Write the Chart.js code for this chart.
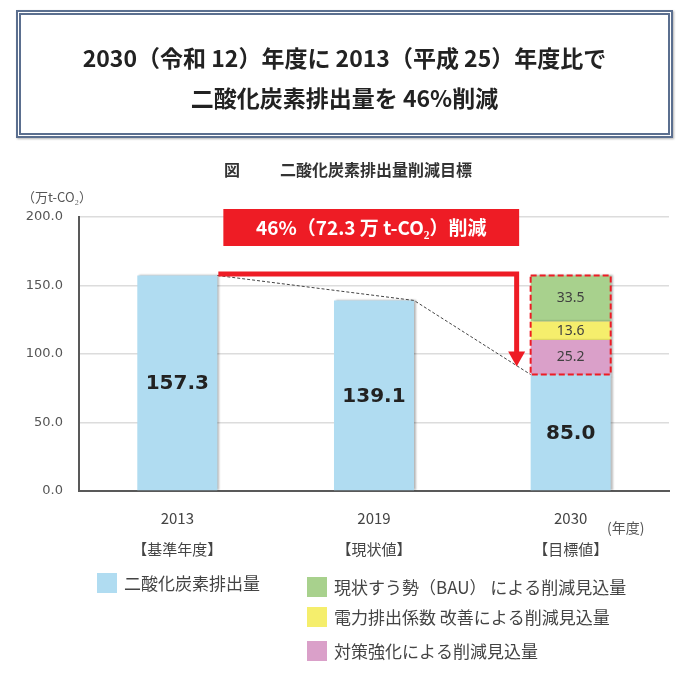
<!DOCTYPE html>
<html lang="ja">
<head>
<meta charset="utf-8">
<script src="https://cdn.jsdelivr.net/npm/chart.js@4.4.1/dist/chart.umd.min.js"></script>
<style>
  html, body { margin: 0; padding: 0; background: #fff; }
  #wrap { position: relative; width: 700px; height: 681px; }
  #myChart { position: absolute; left: 0; top: 0; }
  .headline {
    position: absolute; left: 16px; top: 10px; width: 657px; height: 128px;
    box-sizing: border-box; border: 5px double #5b6f8f;
    box-shadow: 1px 1px 2px rgba(0,0,0,0.3);
    font-family: "Noto Sans CJK JP"; font-weight: bold; font-size: 23px; color: #222;
    text-align: center;
  }
  .headline div { position: absolute; left: 0; right: 0; height: 30px; line-height: 30px; }
</style>
</head>
<body>
<div id="wrap">
  <canvas id="myChart" width="700" height="681"></canvas>
  <div class="headline">
    <div style="top:27px">2030（令和 12）年度に 2013（平成 25）年度比で</div>
    <div style="top:67px">二酸化炭素排出量を 46%削減</div>
  </div>
</div>
<script>
var xLabels = [["2013", "【基準年度】"], ["2019", "【現状値】"], ["2030", "【目標値】"]];
var emissions = [157.3, 139.1, 85.0];
var cutPolicy = [null, null, 25.2];
var cutPower = [null, null, 13.6];
var cutBau = [null, null, 33.5];
var yTicks = [0, 50, 100, 150, 200];
var seriesNames = [
  "二酸化炭素排出量",
  "対策強化による削減見込量",
  "電力排出係数 改善による削減見込量",
  "現状すう勢（BAU） による削減見込量"
];
var barColors = ["#b0dcf1", "#daa0c9", "#f5ee6c", "#a8d18d"];

var cjk = '"Noto Sans CJK JP"';

// extra drawing: labels, arrow, red box, legend
var overlay = {
  id: "overlay",
  beforeDatasetsDraw: function(chart) {
    var ctx = chart.ctx;
    ctx.save();
    ctx.shadowColor = "rgba(0,0,0,0.28)";
    ctx.shadowOffsetX = 2;
    ctx.shadowBlur = 2;
  },
  afterDatasetsDraw: function(chart) {
    var ctx = chart.ctx;
    ctx.restore();
    var area = chart.chartArea;
    var b = chart.getDatasetMeta(0).data;
    var w = b[0].width;

    ctx.save();
    ctx.textAlign = "center";
    ctx.textBaseline = "middle";

    // main values
    ctx.font = 'bold 20px "DejaVu Sans"';
    ctx.fillStyle = "#222";
    for (var i = 0; i < b.length; i++) {
      ctx.fillText(emissions[i].toFixed(1), b[i].x, (b[i].y + b[i].base) / 2 + 1);
    }
    // reduction segments
    ctx.font = '14px "Noto Sans"';
    ctx.fillStyle = "#404040";
    for (var d = 1; d < 4; d++) {
      var el = chart.getDatasetMeta(d).data[2];
      var v = chart.data.datasets[d].data[2];
      ctx.fillText(v.toFixed(1), el.x, (el.y + el.base) / 2);
    }

    // dashed trend line
    ctx.beginPath();
    ctx.setLineDash([3, 2]);
    ctx.strokeStyle = "#444";
    ctx.lineWidth = 1;
    ctx.moveTo(b[0].x + w / 2, b[0].y);
    ctx.lineTo(b[1].x + w / 2, b[1].y);
    ctx.lineTo(b[2].x - w / 2, b[2].y);
    ctx.stroke();

    // red dashed frame round the reductions
    var topEl = chart.getDatasetMeta(3).data[2];
    ctx.setLineDash([6, 3]);
    ctx.strokeStyle = "#ee1c25";
    ctx.lineWidth = 2;
    ctx.strokeRect(b[2].x - w / 2, topEl.y, w, b[2].y - topEl.y);

    // red bracket arrow
    var y0 = b[0].y - 1.5;
    var x0 = b[0].x + w / 2 + 1;
    var x1 = b[2].x - w / 2 - 14;
    var tip = b[2].y - 8;
    ctx.setLineDash([]);
    ctx.lineWidth = 5;
    ctx.lineJoin = "miter";
    ctx.beginPath();
    ctx.moveTo(x0, y0);
    ctx.lineTo(x1, y0);
    ctx.lineTo(x1, tip - 12);
    ctx.stroke();
    ctx.fillStyle = "#ee1c25";
    ctx.beginPath();
    ctx.moveTo(x1 - 8.5, tip - 15);
    ctx.lineTo(x1 + 8.5, tip - 15);
    ctx.lineTo(x1, tip);
    ctx.closePath();
    ctx.fill();

    // red label box
    var left = x0 + 5, right = x1 + 2.5, top = area.top - 8;
    ctx.fillRect(left, top, right - left, 37);
    ctx.fillStyle = "#fff";
    ctx.font = "bold 19px " + cjk;
    ctx.fillText("46%（72.3 万 t-CO₂）削減", (left + right) / 2, top + 19);
    ctx.restore();
  },
  afterDraw: function(chart) {
    var ctx = chart.ctx;
    ctx.save();
    ctx.textBaseline = "middle";
    ctx.textAlign = "left";

    // figure caption
    ctx.fillStyle = "#333";
    ctx.font = "bold 16px " + cjk;
    ctx.fillText("図", 224, 170);
    ctx.fillText("二酸化炭素排出量削減目標", 280, 170);

    // unit and year note
    ctx.fillStyle = "#555";
    ctx.font = "13px " + cjk;
    ctx.fillText("（万t-CO₂）", 22, 197);
    ctx.font = "14px " + cjk;
    ctx.fillText("(年度)", 607, 528);

    // legend
    var items = [
      { s: 0, x: 97, y: 573 },
      { s: 3, x: 307, y: 577 },
      { s: 2, x: 307, y: 607 },
      { s: 1, x: 307, y: 641 }
    ];
    ctx.font = "17px " + cjk;
    items.forEach(function(it) {
      ctx.fillStyle = barColors[it.s];
      ctx.fillRect(it.x, it.y, 20, 20);
      ctx.fillStyle = "#444";
      ctx.fillText(seriesNames[it.s], it.x + 27, it.y + 11);
    });
    ctx.restore();
  }
};

new Chart("myChart", {
  type: "bar",
  data: {
    labels: xLabels,
    datasets: [
      { label: seriesNames[0], data: emissions, backgroundColor: barColors[0] },
      { label: seriesNames[1], data: cutPolicy, backgroundColor: barColors[1] },
      { label: seriesNames[2], data: cutPower, backgroundColor: barColors[2] },
      { label: seriesNames[3], data: cutBau, backgroundColor: barColors[3] }
    ]
  },
  options: {
    responsive: false,
    animation: false,
    barPercentage: 0.407,
    categoryPercentage: 1,
    layout: { padding: { left: 19, right: 31, top: 217, bottom: 90 } },
    plugins: {
      legend: { display: false },
      title: { display: false },
      tooltip: { enabled: false }
    },
    scales: {
      x: {
        stacked: true,
        grid: { display: false },
        border: { color: "#595959", width: 2 },
        ticks: {
          color: "#444",
          padding: 4,
          font: { family: "Noto Sans CJK JP", size: 15, lineHeight: "31px" }
        },
        afterFit: function(s) { s.height = 100; }
      },
      y: {
        stacked: true,
        min: 0,
        max: 200,
        afterBuildTicks: function(s) {
          s.ticks = yTicks.map(function(v) { return { value: v }; });
        },
        grid: { color: "#dcdcdc", lineWidth: 1.5, drawTicks: false },
        border: { color: "#595959", width: 2 },
        ticks: {
          color: "#555",
          padding: 16,
          font: { family: "DejaVu Sans", size: 13 },
          callback: function(v) { return Number(v).toFixed(1); }
        },
        afterFit: function(s) { s.width = 60; }
      }
    }
  },
  plugins: [overlay]
});
</script>
</body>
</html>
